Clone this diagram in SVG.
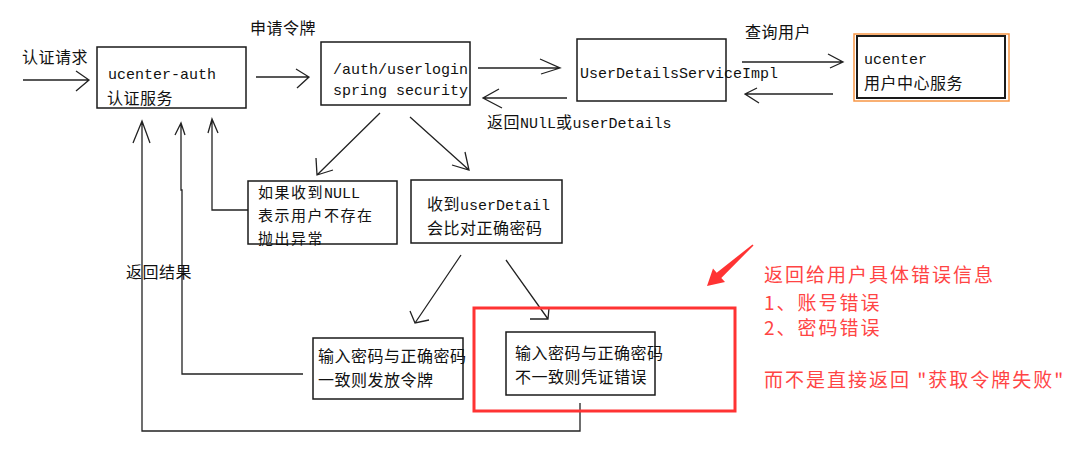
<svg xmlns="http://www.w3.org/2000/svg" width="1086" height="458" viewBox="0 0 1086 458">
<style>
.bg{fill:#fff}
.box{fill:none;stroke:#1a1a1a;stroke-width:1.5}
.ln{fill:none;stroke:#222;stroke-width:1.3}
.m{font-family:"Liberation Mono","Noto Sans CJK SC",monospace;font-size:15px;fill:#111}
.c{font-family:"Noto Sans CJK SC",sans-serif;font-size:16px;letter-spacing:0.5px;fill:#111}
.cs{font-family:"Noto Sans CJK SC",sans-serif;font-size:15px;letter-spacing:1.5px;fill:#111}
.r{font-family:"Noto Sans CJK SC",sans-serif;font-size:19px;letter-spacing:2px;fill:#f44}
.red{fill:none;stroke:#f33;stroke-width:3}
</style>
<rect class="bg" x="0" y="0" width="1086" height="458"/>

<g id="connectors">
  <path class="ln" d="M23,80 H88 M76,71 L89,80 L76,91"/>
  <path class="ln" d="M256,77 H308 M296,69 L309,77 L297,88"/>
  <path class="ln" d="M478,68 H560 M540,59 L560,68 L541,74"/>
  <path class="ln" d="M567,98 H483 M499,89 L483,98 L502,108"/>
  <path class="ln" d="M742,62 H843 M828,54 L843,62 L830,68"/>
  <path class="ln" d="M833,94 H745 M757,88 L745,94 L759,103"/>
  <path class="ln" d="M380,113 L317,175 M316,158 L317,175 L333,170"/>
  <path class="ln" d="M410,117 L469,170 M465,152 L469,170 L452,165"/>
  <path class="ln" d="M461,255 L415,323 M410,311 L415,323 L429,320"/>
  <path class="ln" d="M506,260 L548,319 M549,308 L548,319 L530,319"/>
  <path class="ln" d="M142,121 V431 H580 V403 M133,143 L142,121 L150,143"/>
  <path class="ln" d="M181,123 V190 H182 V374 H303 M175,135 L181,123 L185,135"/>
  <path class="ln" d="M212,119 V210 H248 M208,133 L212,119 L218,133"/>
</g>

<g id="labels">
  <text class="c" x="22" y="63">认证请求</text>
  <text class="c" x="250" y="34">申请令牌</text>
  <text class="c" x="745" y="38">查询用户</text>
  <text class="m" x="487" y="128"><tspan class="c">返回</tspan>NUlL<tspan class="c">或</tspan>userDetails</text>
  <text class="c" x="126" y="278">返回结果</text>
</g>

<g id="ucenter-auth">
  <rect class="box" x="97" y="47" width="149" height="61"/>
  <text class="m" x="108" y="79">ucenter-auth</text>
  <text class="c" x="107" y="104">认证服务</text>
</g>

<g id="userlogin">
  <rect class="box" x="321" y="42" width="149" height="63"/>
  <text class="m" x="333" y="74">/auth/userlogin</text>
  <text class="m" x="333" y="95">spring security</text>
</g>

<g id="userdetailsservice">
  <rect class="box" x="577" y="39" width="149" height="62"/>
  <text class="m" x="580" y="78">UserDetailsServiceImpl</text>
</g>

<g id="ucenter">
  <rect x="854" y="34" width="155" height="67" fill="none" stroke="#f79646" stroke-width="1.5"/>
  <rect x="857" y="36" width="148" height="62" fill="none" stroke="#1a1a1a" stroke-width="2"/>
  <text class="m" x="864" y="64">ucenter</text>
  <text class="c" x="864" y="89">用户中心服务</text>
</g>

<g id="null-case">
  <rect class="box" x="248" y="181" width="149" height="63"/>
  <text class="m" x="258" y="198"><tspan class="cs">如果收到</tspan>NULL</text>
  <text class="cs" x="258" y="221">表示用户不存在</text>
  <text class="cs" x="258" y="244">抛出异常</text>
</g>

<g id="compare">
  <rect class="box" x="411" y="180" width="151" height="63"/>
  <text class="m" x="427" y="210"><tspan class="c">收到</tspan>userDetail</text>
  <text class="c" x="427" y="234">会比对正确密码</text>
</g>

<g id="match">
  <rect class="box" x="313" y="338" width="150" height="61"/>
  <text class="c" x="318" y="362">输入密码与正确密码</text>
  <text class="c" x="318" y="386">一致则发放令牌</text>
</g>

<g id="mismatch">
  <rect class="box" x="506" y="332" width="149" height="63"/>
  <text class="c" x="515" y="359">输入密码与正确密码</text>
  <text class="c" x="515" y="383">不一致则凭证错误</text>
</g>

<g id="highlight">
  <rect class="red" x="474" y="308" width="261" height="103"/>
  <polygon fill="#f33" points="753.5,245.5 721.3,277.9 725,282 707,286 713,268.6 716.7,272.7 752.5,244.5"/>
  <text class="r" x="764" y="282">返回给用户具体错误信息</text>
  <text class="r" x="764" y="310">1、账号错误</text>
  <text class="r" x="764" y="335">2、密码错误</text>
  <text class="r" x="764" y="387">而不是直接返回 "获取令牌失败"</text>
</g>
</svg>
